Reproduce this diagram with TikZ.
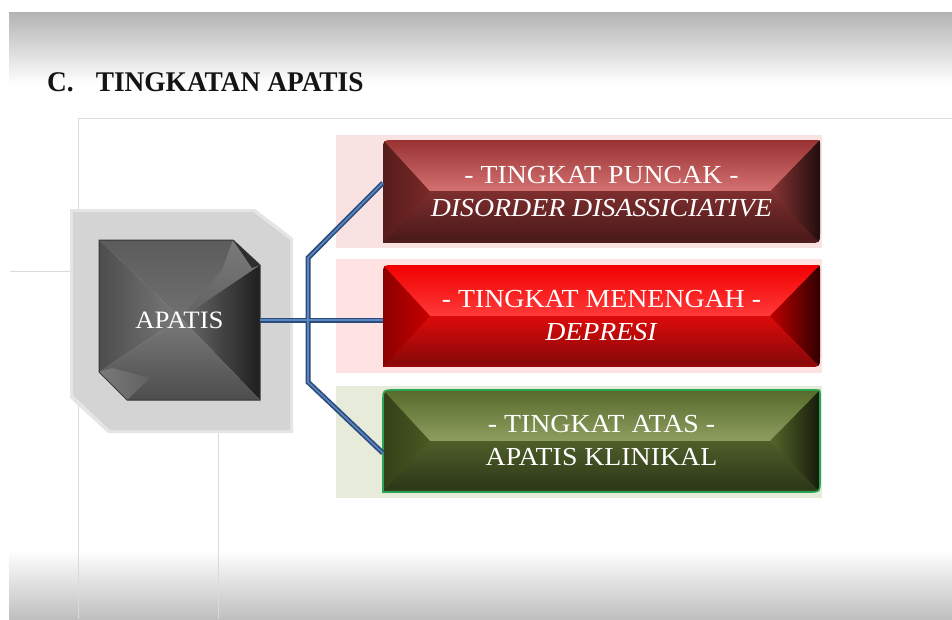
\documentclass[tikz,border=0pt]{standalone}
\usepackage{fontspec}
\setmainfont{Liberation Serif}
\newfontfamily\boxfont[FakeStretch=1.07]{Liberation Serif}
\newfontfamily\headfont[FakeStretch=0.96]{Liberation Serif}
\usetikzlibrary{calc}

\definecolor{gridgray}{HTML}{DADADA}
\definecolor{linkdark}{HTML}{2B4C7C}
\definecolor{linklight}{HTML}{5C87BE}
\definecolor{shadowgray}{HTML}{D4D4D4}
\definecolor{tintred}{HTML}{F8E2E2}
\definecolor{tintpink}{HTML}{FFE3E3}
\definecolor{tintgreen}{HTML}{E7EBDA}

% bar colours
\definecolor{pkA}{HTML}{993333}\definecolor{pkB}{HTML}{D57171}
\definecolor{pkC}{HTML}{7E2E2E}\definecolor{pkD}{HTML}{4A1919}
\definecolor{pkL}{HTML}{7A2828}\definecolor{pkR}{HTML}{8A3535}
\definecolor{mdA}{HTML}{F20000}\definecolor{mdB}{HTML}{FF3A3A}
\definecolor{mdC}{HTML}{DD0A0A}\definecolor{mdD}{HTML}{880808}
\definecolor{mdL}{HTML}{C80000}\definecolor{mdR}{HTML}{C00000}
\definecolor{atA}{HTML}{566A2B}\definecolor{atB}{HTML}{8E9E60}
\definecolor{atC}{HTML}{4E5E29}\definecolor{atD}{HTML}{2C3717}
\definecolor{atL}{HTML}{4A5A22}\definecolor{atR}{HTML}{56682B}
\definecolor{atRim}{HTML}{2BA555}

\tikzset{
  gridline/.style={draw=gridgray, line width=0.9pt},
  link/.style={draw=linkdark, line width=5pt, line join=miter, line cap=butt},
  linkcore/.style={draw=linklight, line width=1.6pt, line join=miter, line cap=butt},
  boxtext/.style={text=white, align=center, inner sep=0pt,
    font=\boxfont\fontsize{26}{33}\selectfont},
  hubtext/.style={text=white, inner sep=0pt,
    font=\boxfont\fontsize{25}{30}\selectfont},
}

% glossy bevelled bar: #1 top, #2 bottom, #3/#4 upper face colours,
% #5/#6 lower face colours, #7 left bevel, #8 right bevel, #9 rim colour
\newcommand\bevelbar[9]{%
  \begin{scope}
    \clip (383,#2) -- (383,#1+11) .. controls (383,#1) .. (394,#1)
      -- (817,#1) .. controls (820,#1) .. (820,#1+3)
      -- (820,#2-11) .. controls (820,#2) .. (809,#2) -- cycle;
    \shade[top color=#3, bottom color=#4] (383,#1) rectangle (820,{(#1+#2)/2});
    \shade[top color=#5, bottom color=#6] (383,{(#1+#2)/2}) rectangle (820,#2-3);
    \fill[#6!80!#5] (383,#2-3) rectangle (820,#2);
    \shade[left color=#7!70!black, right color=#7]
      (383,#1) -- (430,{(#1+#2)/2}) -- (383,#2) -- cycle;
    \shade[left color=#8, right color=#8!25!black]
      (820,#1) -- (770,{(#1+#2)/2}) -- (820,#2) -- cycle;
  \end{scope}
  \draw[draw=#9, line width=1.6pt]
    (383,#2) -- (383,#1+11) .. controls (383,#1) .. (394,#1)
      -- (817,#1) .. controls (820,#1) .. (820,#1+3)
      -- (820,#2-11) .. controls (820,#2) .. (809,#2) -- cycle;
}

\begin{document}
\begin{tikzpicture}[x=1pt,y=-1pt]
  \useasboundingbox (0,0) rectangle (952,619);
  \fill[white] (0,0) rectangle (952,619);

  % slide background bands
  \shade[top color=black!30, middle color=black!7, bottom color=white] (9,12) rectangle (952,84);
  \shade[top color=white, middle color=black!3, bottom color=black!25] (9,550) rectangle (952,619);

  % title
  \node[anchor=base west, inner sep=0pt, text=black!92,
        font=\headfont\bfseries\fontsize{28.5}{30}\selectfont]
        (title) at (47,91) {C.\hspace{22pt}TINGKATAN APATIS};

  % frame lines
  \draw[gridline] (78,619) -- (78,118) -- (952,118);
  \draw[gridline] (10,271) -- (99,271);
  \draw[gridline] (218,400) -- (218,619);

  % hub shadow
  \fill[shadowgray!60!white] (70,209) -- (255,209) -- (293,238) -- (293,433) -- (108,433) -- (70,398) -- cycle;
  \fill[shadowgray] (73,212) -- (253,212) -- (290,240) -- (290,430) -- (110,430) -- (73,395) -- cycle;

  % tints behind the bars
  \fill[tintred] (336,135) rectangle (822,248);
  \fill[tintpink] (336,259) rectangle (822,373);
  \fill[tintgreen] (336,386) rectangle (822,498);

  % hub facets
  \coordinate (hc) at (181,318);
  \shade[top color=black!64, middle color=black!44, bottom color=black!56] (99,240) -- (233,240) -- (260,265) -- (hc) -- cycle;
  \shade[left color=black!70, right color=black!52] (99,240) -- (hc) -- (99,372) -- cycle;
  \shade[left color=black!58, right color=black!88] (260,265) -- (260,400) -- (hc) -- cycle;
  \shade[top color=black!52, bottom color=black!70] (99,372) -- (hc) -- (260,400) -- (127,400) -- cycle;
  \shade[top color=black!52, bottom color=black!62] (233,240) -- (260,265) -- (hc) -- (222,270) -- cycle;
  \fill[black!82] (233,240) -- (260,265) -- (252,268) -- cycle;
  \shade[left color=black!52, right color=black!62] (99,372) -- (127,400) -- (150,378) -- (112,368) -- cycle;
  \draw[black!78, line width=1pt] (99,240) -- (233,240) -- (260,265) -- (260,400) -- (127,400) -- (99,372) -- cycle;

  % bars
  \bevelbar{140}{243}{pkA}{pkB}{pkC}{pkD}{pkL}{pkR}{none}
  \bevelbar{265}{367}{mdA}{mdB}{mdC}{mdD}{mdL}{mdR}{none}
  \bevelbar{390}{492}{atA}{atB}{atC}{atD}{atL}{atR}{atRim}

  % labels and names
  \node[hubtext, minimum width=161pt, minimum height=160pt] (apatis) at (179.5,320) {APATIS};
  \node[boxtext, minimum width=437pt, minimum height=103pt] (puncak) at (601.5,191.5)
    {- TINGKAT PUNCAK -\\\textit{DISORDER DISASSICIATIVE}};
  \node[boxtext, minimum width=437pt, minimum height=102pt] (menengah) at (601.5,316)
    {- TINGKAT MENENGAH -\\\textit{DEPRESI}};
  \node[boxtext, minimum width=437pt, minimum height=102pt] (atas) at (601.5,441)
    {- TINGKAT ATAS -\\APATIS KLINIKAL};

  % connectors
  \coordinate (j1) at (308,258);
  \coordinate (j2) at (308,382);
  \foreach \s in {link, linkcore} {
    \draw[\s] ([yshift=8.5pt]puncak.west) -- (j1) -- (j2) -- ([yshift=-12pt]atas.west);
    \draw[\s] (apatis.east) -- (apatis.east -| menengah.west);
  }
\end{tikzpicture}
\end{document}
